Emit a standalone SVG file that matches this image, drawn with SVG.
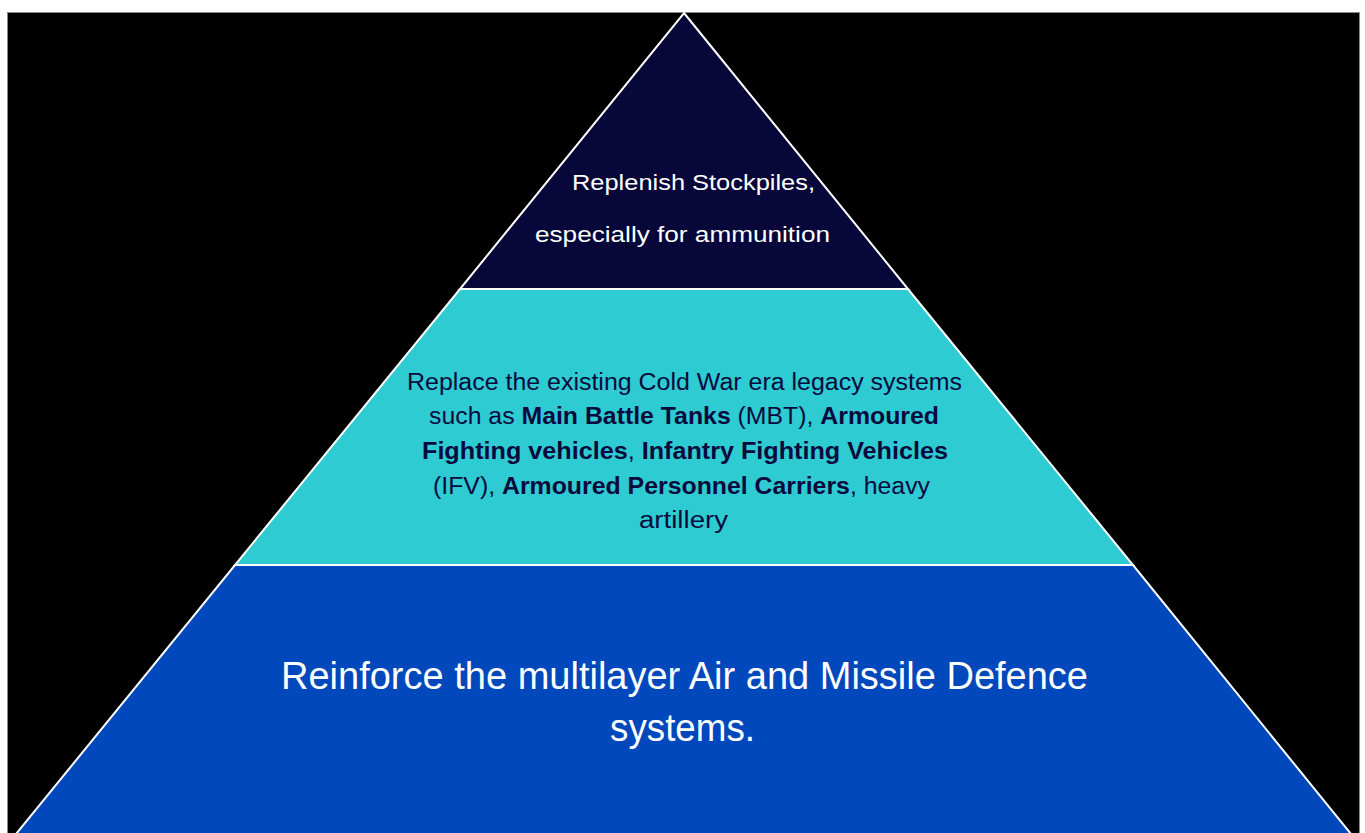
<svg xmlns="http://www.w3.org/2000/svg" width="1365" height="833" viewBox="0 0 1365 833">
<style>
.seg{stroke:#ffffff;stroke-width:2;stroke-linejoin:miter}
.t{font-family:"Liberation Sans",Arial,sans-serif}
.w{fill:#ffffff}
.n{fill:#0a0a3c}
.b{font-weight:bold}
</style>
<rect x="0" y="0" width="1365" height="833" fill="#ffffff"/>
<rect x="7.5" y="12.5" width="1352" height="830" fill="#000000" stroke="#8a8a8a" stroke-width="1"/>
<g id="tier-top">
<polygon class="seg" points="684,13 908,289 460,289" fill="#07073a"/>
<text class="t w" x="572" y="190" font-size="22" textLength="243" lengthAdjust="spacingAndGlyphs">Replenish Stockpiles,</text>
<text class="t w" x="535" y="242" font-size="22" textLength="295" lengthAdjust="spacingAndGlyphs">especially for ammunition</text>
</g>
<g id="tier-middle">
<polygon class="seg" points="460,289 908,289 1133,565 235,565" fill="#2ecbd2"/>
<text class="t n" x="407" y="390" font-size="23" textLength="555" lengthAdjust="spacingAndGlyphs">Replace the existing Cold War era legacy systems</text>
<text class="t n" x="429" y="424" font-size="23" textLength="510" lengthAdjust="spacingAndGlyphs">such as <tspan class="b">Main Battle Tanks</tspan> (MBT), <tspan class="b">Armoured</tspan></text>
<text class="t n b" x="422" y="459" font-size="23" textLength="526" lengthAdjust="spacingAndGlyphs">Fighting vehicles<tspan font-weight="normal">, </tspan>Infantry Fighting Vehicles</text>
<text class="t n" x="433" y="494" font-size="23" textLength="497" lengthAdjust="spacingAndGlyphs">(IFV), <tspan class="b">Armoured Personnel Carriers</tspan>, heavy</text>
<text class="t n" x="639" y="528" font-size="23" textLength="89" lengthAdjust="spacingAndGlyphs">artillery</text>
</g>
<g id="tier-bottom">
<polygon class="seg" points="235,565 1133,565 1351,834 16,834" fill="#0048bb"/>
<text class="t w" x="281" y="689" font-size="38" textLength="807" lengthAdjust="spacingAndGlyphs">Reinforce the multilayer Air and Missile Defence</text>
<text class="t w" x="610" y="741" font-size="38" textLength="145" lengthAdjust="spacingAndGlyphs">systems.</text>
</g>
<g id="connectors"/>
</svg>
